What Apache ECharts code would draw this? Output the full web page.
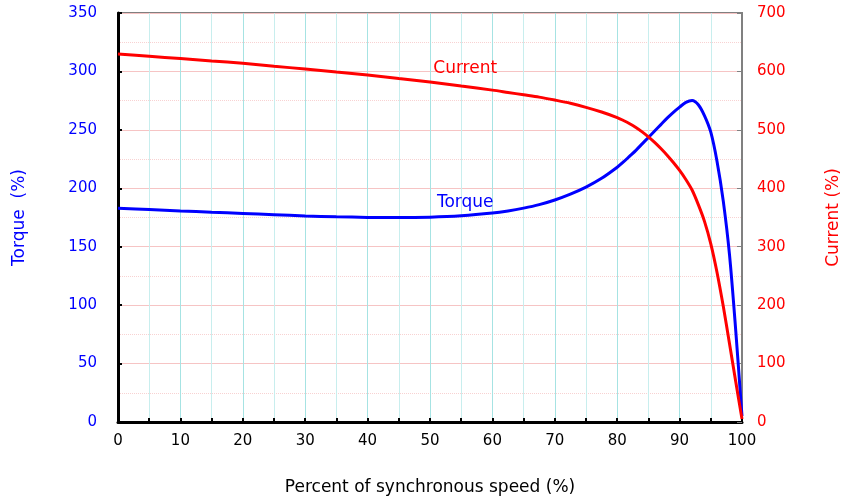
<!DOCTYPE html>
<html>
<head>
<meta charset="utf-8">
<script src="https://cdn.jsdelivr.net/npm/echarts@6/dist/echarts.min.js"></script>
<style>
  html, body { margin: 0; padding: 0; background: #fff; }
  #chart { width: 843px; height: 500px; }
</style>
</head>
<body>
<div id="chart"></div>
<script>
// percent of synchronous speed
const speed = [0, 5, 10, 15, 20, 25, 30, 35, 40, 45, 50, 55,
  60, 62.5, 65, 67.5, 70, 72.5, 75, 77.5,
  80, 81, 82, 83, 84, 85, 86, 87, 88, 89, 90, 91, 92, 93, 94, 95, 96, 97, 98, 99, 100];
// torque (%)
const torque = [183, 181.8, 180.6, 179.5, 178.5, 177.4, 176.3, 175.6, 175.1, 174.9, 175.3, 176.5,
  178.8, 180.6, 183, 186, 190, 195, 201, 208.5,
  218, 222.5, 227.5, 232.5, 238, 243.5, 249, 254.5, 260, 265, 269.5, 273.5, 275.2, 271.5, 262, 248, 223, 189, 143, 78, 5];
// current (%)
const current = [630, 626, 622, 618, 614, 609, 604, 599, 594, 588, 582, 575,
  568, 564, 560, 556, 551, 545.5, 538.5, 530.5,
  521, 516, 510.5, 504, 496.5, 488, 478.5, 468, 456.5, 444, 430.5, 415, 397, 372, 343, 305, 256, 198, 134, 69, 5];

const labelAt = 55; // series name is written next to this speed

const font = "DejaVu Sans";
const blue = "#0000ff";
const red = "#ff0000";

function pairs(ys, name, color) {
  return speed.map((x, i) => {
    if (x === labelAt) {
      return {
        value: [x, ys[i]],
        label: {
          show: true, formatter: name, position: "top",
          distance: name === "Current" ? 9 : 5, offset: [4, 0],
          color: color, fontFamily: font, fontSize: 17,
        },
      };
    }
    return [x, ys[i]];
  });
}

const chart = echarts.init(document.getElementById("chart"));

const option = {
  animation: false,
  backgroundColor: "#fff",
  grid: {
    left: 118, right: 101, top: 13, bottom: 78,
    outerBoundsMode: "none",
    show: true, borderColor: "#808080", borderWidth: 2,
  },
  xAxis: {
    type: "value",
    min: 0, max: 100, interval: 5,
    name: "Percent of synchronous speed (%)",
    nameLocation: "middle", nameGap: 57,
    nameTextStyle: { fontFamily: font, fontSize: 17, color: "#000" },
    axisLine: { lineStyle: { color: "#000", width: 3 } },
    axisTick: { inside: true, length: 4, lineStyle: { color: "#000", width: 2 } },
    axisLabel: {
      margin: 12, fontFamily: font, fontSize: 15, color: "#000",
      formatter: (v) => (v % 10 === 0 ? String(v) : ""),
    },
    splitLine: { show: true, lineStyle: { color: ["#a6e3e3", "#c8eeee"], width: 1 } },
  },
  yAxis: [
    {
      type: "value",
      min: 0, max: 350, interval: 50,
      position: "left",
      name: "Torque  (%)",
      nameLocation: "middle", nameGap: 90, nameRotate: 90,
      nameTextStyle: { fontFamily: font, fontSize: 17, color: blue },
      axisLine: { show: true, lineStyle: { color: "#000", width: 3 } },
      axisTick: { show: true, inside: true, length: 4, lineStyle: { color: "#000", width: 2 } },
      axisLabel: { margin: 21, fontFamily: font, fontSize: 15, color: blue },
      splitLine: { show: true, lineStyle: { color: "#f6c4c4", width: 1 } },
      minorTick: { show: false, splitNumber: 2 },
      minorSplitLine: { show: true, lineStyle: { color: "#f8d2d2", width: 1, type: "dotted" } },
    },
    {
      type: "value",
      min: 0, max: 700, interval: 100,
      position: "right",
      name: "Current (%)",
      nameLocation: "middle", nameGap: 83, nameRotate: 90,
      nameTextStyle: { fontFamily: font, fontSize: 17, color: red },
      axisLine: { show: true, lineStyle: { color: "#808080", width: 2 } },
      axisTick: { show: true, inside: true, length: 5, lineStyle: { color: "#808080", width: 1 } },
      axisLabel: { margin: 15, fontFamily: font, fontSize: 15, color: red },
      splitLine: { show: false },
    },
  ],
  series: [
    {
      name: "Torque",
      type: "line",
      yAxisIndex: 0,
      data: pairs(torque, "Torque", blue),
      smooth: 0.3,
      showSymbol: true,
      symbol: "circle",
      symbolSize: 0,
      lineStyle: { color: blue, width: 3 },
      itemStyle: { color: blue },
      z: 3,
    },
    {
      name: "Current",
      type: "line",
      yAxisIndex: 1,
      data: pairs(current, "Current", red),
      smooth: 0.3,
      showSymbol: true,
      symbol: "circle",
      symbolSize: 0,
      lineStyle: { color: red, width: 3 },
      itemStyle: { color: red },
      z: 4,
    },
  ],
};

chart.setOption(option);
</script>
</body>
</html>
